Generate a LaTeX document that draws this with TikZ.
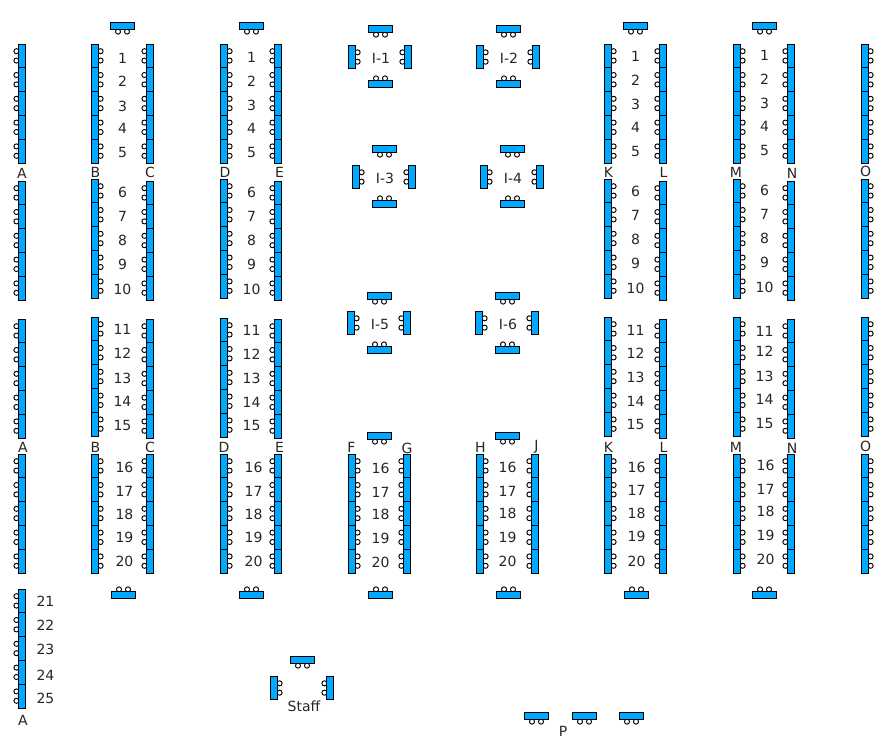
\documentclass[tikz,border=0pt]{standalone}
\usepackage{fontspec}
\setmainfont{DejaVu Sans}
\definecolor{deskblue}{HTML}{00A8FF}
\tikzset{
  desk/.style={draw=black,line width=0.75pt,fill=deskblue},
  chair/.style={draw=black,line width=0.7pt,fill=white},
  lbl/.style={inner sep=0pt,text=black!85,font=\fontsize{10.5}{12}\selectfont}
}
% desks: centre x, centre y, side of the chairs
\newcommand{\vdesk}[3]{
  \draw[chair] ({#1+#3*5.6},{#2-4.7}) circle[radius=1.9pt];
  \draw[chair] ({#1+#3*5.6},{#2+4.7}) circle[radius=1.9pt];
  \draw[desk] ({#1-3.5},{#2-11.9}) rectangle ({#1+3.5},{#2+11.9});
}
\newcommand{\hdesk}[3]{
  \draw[chair] ({#1-4.5},{#2+#3*5.6}) circle[radius=1.9pt];
  \draw[chair] ({#1+4.5},{#2+#3*5.6}) circle[radius=1.9pt];
  \draw[desk] ({#1-12},{#2-3.5}) rectangle ({#1+12},{#2+3.5});
}
\newcommand{\deskrow}[3]{
  \foreach \k in {0,...,4} {\vdesk{#1}{#2+11.9+23.8*\k}{#3}}
}
\newcommand{\numrow}[3]{
  \foreach \ny [count=\nc from #2] in {#3} {\node[lbl] (n#1x\nc) at (#1+0.5,\ny+0.6) {\nc};}
}
\begin{document}
\begin{tikzpicture}[x=0.75pt,y=-0.75pt]
        \useasboundingbox (0,0) rectangle (888,746);

        % long columns
        \foreach \x/\s/\ra/\rb/\rc/\rd in {22/-1/44/181/319/454, 95/1/44/179/317/454,
                150/-1/44/181/319/454, 224/1/44/179/318/454, 278/-1/44/181/319/454,
                608/1/44/179/317/454, 663/-1/44/181/319/454, 737/1/44/179/317/454,
                791/-1/44/181/319/454, 865/1/44/179/317/454} {
                \deskrow{\x}{\ra}{\s}
                \deskrow{\x}{\rb}{\s}
                \deskrow{\x}{\rc}{\s}
                \deskrow{\x}{\rd}{\s}
        }
        \deskrow{352}{454}{1}
        \deskrow{407}{454}{-1}
        \deskrow{480}{454}{1}
        \deskrow{535}{454}{-1}
        \deskrow{22}{589}{-1}

        % single desks
        \foreach \x/\y in {122.5/26, 251.5/26, 635.5/26, 764.5/26, 379.5/436, 507.5/436,
                536.5/716, 584.5/716, 631.5/716, 302.5/660} {\hdesk{\x}{\y}{1}}
        \foreach \x in {123.5,251.5,380.5,508.5,636.5,764.5} {\hdesk{\x}{595}{-1}}

        % islands
        \foreach \x/\y/\u/\d/\i in {380.5/57/29/84/1, 508.5/57/29/84/2, 384.5/177/149/204/3,
                512.5/177/149/204/4, 379.5/323/296/350/5, 507.5/323/296/350/6} {
                \hdesk{\x}{\u}{1}
                \hdesk{\x}{\d}{-1}
                \vdesk{\x-28.5}{\y}{1}
                \vdesk{\x+27.5}{\y}{-1}
                \node[lbl] (island\i) at (\x+0.5,\y+1.5) {I-\i};
        }

        % staff
        \vdesk{274}{688}{1}
        \vdesk{330}{688}{-1}
        \node[lbl] (staff) at (304,706.5) {Staff};
        \node[lbl] (park) at (563,731.5) {P};

        % row numbers
        \numrow{122}{1}{58,81,106,128,152}
        \numrow{122}{6}{192,216,240,264,289}
        \numrow{122}{11}{329,353,378,401,425}
        \numrow{124}{16}{467,491,514,537,561}
        \numrow{251}{1}{57,81,105,128,152}
        \numrow{251}{6}{192,216,240,264,289}
        \numrow{251}{11}{330,354,378,402,425}
        \numrow{253}{16}{467,491,514,537,561}
        \numrow{380}{16}{468,492,514,538,562}
        \numrow{507}{16}{467,491,513,537,561}
        \numrow{635}{1}{56,80,104,127,151}
        \numrow{635}{6}{191,215,239,263,288}
        \numrow{635}{11}{330,353,377,401,424}
        \numrow{636}{16}{467,490,513,536,561}
        \numrow{764}{1}{55,79,103,126,150}
        \numrow{764}{6}{190,214,238,262,287}
        \numrow{764}{11}{331,351,376,399,423}
        \numrow{765}{16}{465,489,511,535,559}
        \numrow{45}{21}{601,625,649,675,698}

        % column letters
        \foreach \t/\x/\y in {A/22/173.5, B/95.5/172.5, C/150/172.5, D/225/172.5, E/279.5/172.5, K/608.5/172.5,
                L/663.5/172.5, M/736/172.5, N/792/173.5, O/865.5/171.5} {
                \node[lbl] (top\t) at (\x,\y) {\t};
        }
        \foreach \t/\x/\y in {A/23/447.5, B/95.5/447.5, C/150/447.5, D/224/447.5, E/279.5/447.5, F/351.5/447.5,
                G/407/448.5, H/480.5/447.5, J/536.5/446.5, K/608.5/447.5, L/663.5/447.5, M/736/447.5, N/792/448.5, O/865.5/446.5} {
                \node[lbl] (mid\t) at (\x,\y) {\t};
        }
        \node[lbl] (lowA) at (23,720.5) {A};
\end{tikzpicture}
\end{document}
